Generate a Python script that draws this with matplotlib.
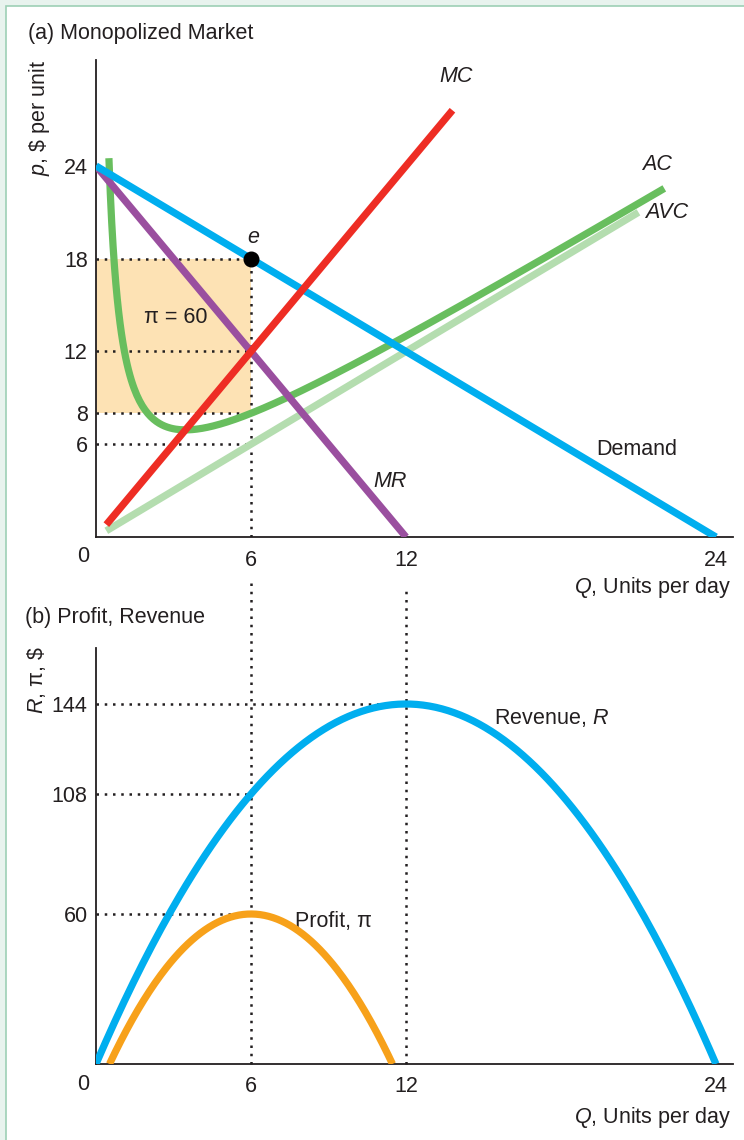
import numpy as np
import matplotlib
matplotlib.use("Agg")
import matplotlib.pyplot as plt
from matplotlib.patches import Rectangle

plt.rcParams['font.family'] = ['Liberation Sans', 'DejaVu Sans']
plt.rcParams['mathtext.fontset'] = 'custom'
plt.rcParams['mathtext.rm'] = 'Liberation Sans'
plt.rcParams['mathtext.it'] = 'Liberation Sans:italic'

# ---- data (model of the chart) ----
demand_intercept = 24      # p = 24 - Q
demand_slope = 1
fixed_cost = 12            # C = 12 + Q^2
q_star = 6                 # monopoly quantity
p_star = 18                # monopoly price
ac_star = 8
avc_star = 6
mc_star = 12
profit_star = 60
q_rev_max = 12
rev_max = 144
rev_star = 108

q_ticks = [6, 12, 24]
p_ticks = [6, 8, 12, 18, 24]
r_ticks = [60, 108, 144]

mc_range = (0.4, 13.8)
ac_range = (0.5, 22.0)
avc_range = (0.4, 21.0)

# ---- colors ----
C_BLUE = '#00AEEF'
C_PURPLE = '#9A4F9F'
C_RED = '#EE2D24'
C_GREEN = '#68BE5E'
C_LGREEN = '#B4DDAF'
C_ORANGE = '#F7A11A'
C_SHADE = '#FDE2B4'
C_TEXT = '#231F20'

W, H = 744, 1140
fig = plt.figure(figsize=(W / 100, H / 100), dpi=100)
fig.patch.set_facecolor('#E8F3EE')
fig.patches.append(Rectangle((6 / W, -0.01), 1.1, 1 - 6 / H + 0.01, transform=fig.transFigure,
                             facecolor='white', edgecolor='#9DD0B5', lw=1.2, zorder=-10))

def fx(px):
    return px / W

def fy(py):
    return 1 - py / H

FS = 15.5
LW = 5.2

# axes rectangles in pixels
xl, xr = 96, 733
a_top, a_bot = 60, 537
b_top, b_bot = 648, 1064

ax_a = fig.add_axes([fx(xl), fy(a_bot), fx(xr) - fx(xl), fy(a_top) - fy(a_bot)])
ax_b = fig.add_axes([fx(xl), fy(b_bot), fx(xr) - fx(xl), fy(b_top) - fy(b_bot)])

for ax in (ax_a, ax_b):
    ax.set_facecolor('none')
    for s in ('top', 'right'):
        ax.spines[s].set_visible(False)
    for s in ('left', 'bottom'):
        ax.spines[s].set_color(C_TEXT)
        ax.spines[s].set_linewidth(1.3)
    ax.tick_params(length=0, labelsize=FS, colors=C_TEXT)
    ax.tick_params(axis='x', pad=9)
    ax.tick_params(axis='y', pad=6)
    ax.set_xlim(0, 24.66)
    ax.set_xticks(q_ticks)

ax_a.set_ylim(0, 30.85)
ax_a.set_yticks(p_ticks)
ax_b.set_ylim(0, 166.4)
ax_b.set_yticks(r_ticks)

DOT = dict(color=C_TEXT, lw=1.8, linestyle=(0, (1, 2.3)))

# ---- panel (a) ----
q = np.linspace(0, 24, 200)
# profit rectangle
ax_a.fill_between([0, q_star], ac_star, p_star, color=C_SHADE, lw=0, zorder=1)
# dotted guides
for yv in (p_star, mc_star, ac_star, avc_star):
    ax_a.plot([0, q_star], [yv, yv], zorder=2, **DOT)
ax_a.plot([q_star, q_star], [0, p_star], zorder=2, **DOT)

q_avc = np.linspace(*avc_range, 50)
ax_a.plot(q_avc, q_avc, color=C_LGREEN, lw=LW, solid_capstyle='butt', zorder=3)
q_ac = np.linspace(*ac_range, 400)
ax_a.plot(q_ac, q_ac + fixed_cost / q_ac, color=C_GREEN, lw=LW, solid_capstyle='butt', zorder=4)
q_mr = np.linspace(0, 12, 50)
ax_a.plot(q_mr, demand_intercept - 2 * demand_slope * q_mr, color=C_PURPLE, lw=LW,
          solid_capstyle='butt', zorder=5)
ax_a.plot(q, demand_intercept - demand_slope * q, color=C_BLUE, lw=LW, solid_capstyle='butt', zorder=6)
q_mc = np.linspace(*mc_range, 50)
ax_a.plot(q_mc, 2 * q_mc, color=C_RED, lw=LW, solid_capstyle='butt', zorder=7)
ax_a.plot([q_star], [p_star], 'o', color='black', ms=10.5, zorder=8)

ax_a.text(13.95, 29.8, 'MC', style='italic', fontsize=FS, ha='center', va='center', color=C_TEXT)
ax_a.text(21.72, 24.06, 'AC', style='italic', fontsize=FS, ha='center', va='center', color=C_TEXT)
ax_a.text(22.1, 21.0, 'AVC', style='italic', fontsize=FS, ha='center', va='center', color=C_TEXT)
ax_a.text(11.38, 3.62, 'MR', style='italic', fontsize=FS, ha='center', va='center', color=C_TEXT)
ax_a.text(20.94, 5.69, 'Demand', fontsize=FS, ha='center', va='center', color=C_TEXT)
ax_a.text(6.08, 19.34, 'e', style='italic', fontsize=FS, ha='center', va='center', color=C_TEXT)
ax_a.text(3.1, 14.17, 'π = 60', fontsize=FS, ha='center', va='center', color=C_TEXT, zorder=9)

# ---- panel (b) ----
ax_b.plot(q, demand_intercept * q - demand_slope * q ** 2, color=C_BLUE, lw=LW,
          solid_capstyle='butt', zorder=5)
q_lo = 6 - np.sqrt(30)
q_hi = 6 + np.sqrt(30)
q_p = np.linspace(q_lo, q_hi, 200)
ax_b.plot(q_p, demand_intercept * q_p - 2 * q_p ** 2 - fixed_cost, color=C_ORANGE, lw=LW,
          solid_capstyle='butt', zorder=5)
ax_b.plot([0, q_rev_max], [rev_max, rev_max], zorder=2, **DOT)
ax_b.plot([0, q_star], [rev_star, rev_star], zorder=2, **DOT)
ax_b.plot([0, q_star], [profit_star, profit_star], zorder=2, **DOT)
ax_b.axvline(q_star, ymin=0, ymax=(b_bot - 578) / (b_bot - b_top), clip_on=False, zorder=2, **DOT)
ax_b.axvline(q_rev_max, ymin=0, ymax=(b_bot - 590) / (b_bot - b_top), clip_on=False, zorder=2, **DOT)

ax_b.text(17.65, 138.4, 'Revenue, $\\mathit{R}$', fontsize=FS, ha='center', va='center', color=C_TEXT)
ax_b.text(9.2, 57.2, 'Profit, π', fontsize=FS, ha='center', va='center', color=C_TEXT)

# ---- figure-level texts ----
fig.text(fx(28), fy(34), '(a) Monopolized Market', fontsize=FS, ha='left', va='center', color=C_TEXT)
fig.text(fx(25), fy(618), '(b) Profit, Revenue', fontsize=FS, ha='left', va='center', color=C_TEXT)
fig.text(fx(40), fy(118), '$\\mathit{p}$, \\$ per unit', fontsize=FS, rotation=90,
         ha='center', va='center', color=C_TEXT)
fig.text(fx(37), fy(680), '$\\mathit{R}$, π, \\$', fontsize=FS, rotation=90,
         ha='center', va='center', color=C_TEXT)
fig.text(fx(731), fy(587), '$\\mathit{Q}$, Units per day', fontsize=FS, ha='right', va='center', color=C_TEXT)
fig.text(fx(731), fy(1117), '$\\mathit{Q}$, Units per day', fontsize=FS, ha='right', va='center', color=C_TEXT)
fig.text(fx(83), fy(556), '0', fontsize=FS, ha='center', va='center', color=C_TEXT)
fig.text(fx(83), fy(1085), '0', fontsize=FS, ha='center', va='center', color=C_TEXT)

fig.savefig('out.png', dpi=100, facecolor=fig.get_facecolor())
